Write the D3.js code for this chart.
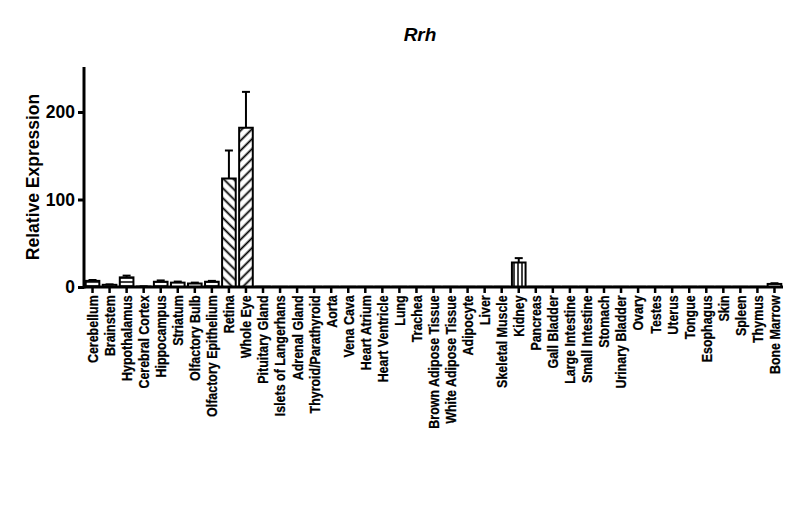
<!DOCTYPE html>
<html><head><meta charset="utf-8">
<script src="https://cdn.jsdelivr.net/npm/d3@7/dist/d3.min.js"></script>
<style>body{margin:0;background:#fff}svg{display:block}text{font-family:"Liberation Sans",Arial,sans-serif;font-weight:bold}</style>
</head><body>
<svg id="c" width="800" height="528"></svg>
<script>
const categories = ["Cerebellum","Brainstem","Hypothalamus","Cerebral Cortex","Hippocampus","Striatum","Olfactory Bulb","Olfactory Epithelium","Retina","Whole Eye","Pituitary Gland","Islets of Langerhans","Adrenal Gland","Thyroid/Parathyroid","Aorta","Vena Cava","Heart Atrium","Heart Ventricle","Lung","Trachea","Brown Adipose Tissue","White Adipose Tissue","Adipocyte","Liver","Skeletal Muscle","Kidney","Pancreas","Gall Bladder","Large Intestine","Small Intestine","Stomach","Urinary Bladder","Ovary","Testes","Uterus","Tongue","Esophagus","Skin","Spleen","Thymus","Bone Marrow"];
const values = [7,2.5,11,0.5,6,5,4,6,124,182,0.3,0.2,0.2,0.2,0.2,0.2,0.2,0.2,0.2,0.2,0.2,0.2,0.2,0.2,0.2,28,0.2,0.2,0.2,0.2,0.2,0.2,0.2,0.2,0.2,0.2,0.2,0.2,0.2,0.2,3.5];
const errors = [1,0.5,2,0.2,1.5,1.2,1,1,32,41,0,0,0,0,0,0,0,0,0,0,0,0,0,0,0,5,0,0,0,0,0,0,0,0,0,0,0,0,0,0,0.8];
const fills = ["hatchH","none","hatchH","none","hatchH","none","none","hatchH","hatchB","hatchF","none","none","none","none","none","none","none","none","none","none","none","none","none","none","none","hatchV","none","none","none","none","none","none","none","none","none","none","none","none","none","none","none"];
const yTicks = [0,100,200];
const title = "Rrh";
const yLabel = "Relative Expression";

const svg = d3.select("#c");
const defs = svg.append("defs");
function pat(id, size, path, rot){
  const p = defs.append("pattern").attr("id",id).attr("patternUnits","userSpaceOnUse")
    .attr("width",size).attr("height",size);
  if(rot!==null) p.attr("patternTransform","rotate("+rot+")");
  p.append("rect").attr("width",size).attr("height",size).attr("fill","#fff");
  p.append("line").attr("x1",size/2).attr("y1",0).attr("x2",size/2).attr("y2",size)
    .attr("stroke","#000").attr("stroke-width",path);
}
pat("hatchB",7,1.8,-45);
pat("hatchF",7,1.8,45);
pat("hatchV",4,1.5,0);
pat("hatchH",4,1.5,90);

const x = d3.scaleBand().domain(categories).range([84,783]).paddingInner(0.2).paddingOuter(0.1);
const y = d3.scaleLinear().domain([0,250]).range([287,68.25]);

const g = svg.append("g");
g.selectAll("rect.bar").data(categories).join("rect").attr("class","bar")
  .attr("x",d=>x(d)).attr("width",x.bandwidth())
  .attr("y",(d,i)=>y(values[i])).attr("height",(d,i)=>y(0)-y(values[i]))
  .attr("fill",(d,i)=>fills[i]==="none"?"#fff":"url(#"+fills[i]+")")
  .attr("stroke","#000").attr("stroke-width",2);
const eb = g.selectAll("g.err").data(categories.map((c,i)=>({c,v:values[i],e:errors[i]})).filter(d=>d.e>0)).join("g");
eb.append("line").attr("x1",d=>x(d.c)+x.bandwidth()/2).attr("x2",d=>x(d.c)+x.bandwidth()/2)
  .attr("y1",d=>y(d.v)).attr("y2",d=>y(d.v+d.e)).attr("stroke","#000").attr("stroke-width",2);
eb.append("line").attr("x1",d=>x(d.c)+x.bandwidth()/2-4).attr("x2",d=>x(d.c)+x.bandwidth()/2+4)
  .attr("y1",d=>y(d.v+d.e)).attr("y2",d=>y(d.v+d.e)).attr("stroke","#000").attr("stroke-width",2);

const ya = svg.append("g").attr("transform","translate(84,0)")
  .call(d3.axisLeft(y).tickValues(yTicks).tickSize(6).tickPadding(3).tickFormat(d3.format("d")));
ya.select(".domain").attr("stroke-width",3).attr("d","M0,67V288.5");
ya.selectAll(".tick line").attr("stroke-width",3);
ya.selectAll(".tick text").attr("font-size",17.5).attr("font-weight","bold").attr("fill","#000")
  .attr("font-family","Liberation Sans, Arial, sans-serif");

const xa = svg.append("g").attr("transform","translate(0,287)")
  .call(d3.axisBottom(x).tickSize(6).tickPadding(2));
xa.select(".domain").attr("stroke-width",3).attr("d","M84,0H783");
xa.selectAll(".tick line").attr("stroke-width",2.5);
xa.selectAll(".tick text").attr("font-size",15).attr("font-weight","bold").attr("fill","#000")
  .attr("stroke","#000").attr("stroke-width",0.25)
  .attr("font-family","Liberation Sans, Arial, sans-serif")
  .attr("text-anchor","end").attr("transform","rotate(-90) scale(0.83,1)")
  .attr("x",-10).attr("y",0).attr("dy","0.36em");

svg.append("text").attr("x",420).attr("y",41).attr("text-anchor","middle")
  .attr("font-size",19).attr("font-style","italic").text(title);
svg.append("text").attr("transform","translate(39,177) rotate(-90)").attr("text-anchor","middle")
  .attr("font-size",17.5).text(yLabel);
</script>
</body></html>
